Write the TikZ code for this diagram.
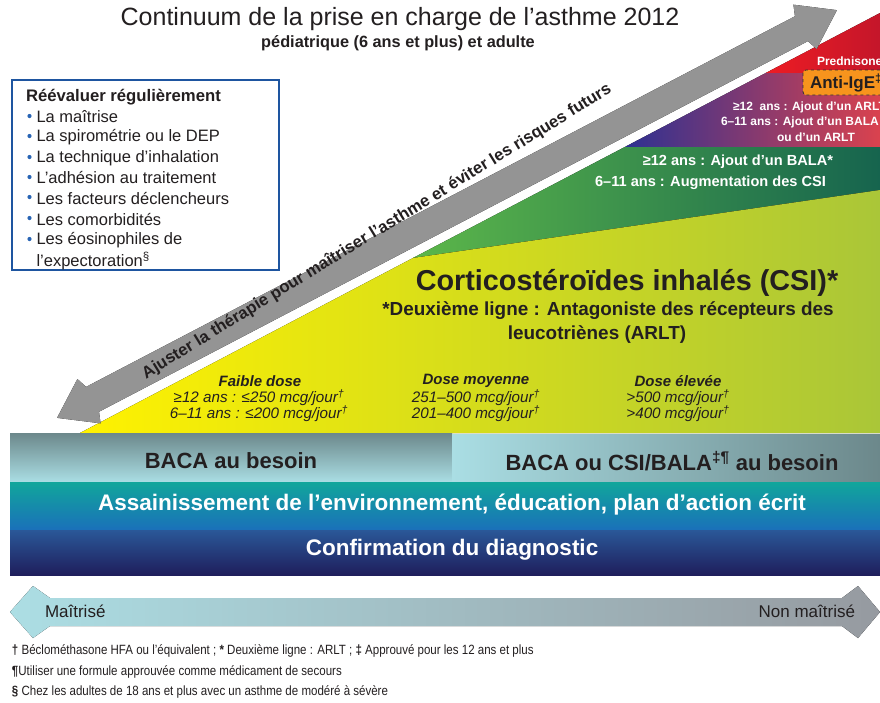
\documentclass[tikz,border=0pt]{standalone}
\usepackage{fontspec}
\setmainfont{Liberation Sans}
\newfontfamily\cond[FakeStretch=0.86]{Liberation Sans}
\newcommand\fsz[1]{\fontsize{#1}{#1}\selectfont}
\definecolor{redL}{RGB}{237,28,36}
\definecolor{redR}{RGB}{196,22,42}
\definecolor{purL}{RGB}{46,49,146}
\definecolor{purM}{RGB}{120,50,130}
\definecolor{purR}{RGB}{218,66,78}
\definecolor{grnL}{RGB}{92,183,74}
\definecolor{grnR}{RGB}{22,100,78}
\definecolor{yelL}{RGB}{255,242,0}
\definecolor{yelM}{RGB}{236,230,18}
\definecolor{yelR}{RGB}{170,198,56}
\definecolor{bacaD}{RGB}{108,136,139}
\definecolor{bacaL}{RGB}{170,222,228}
\definecolor{tealT}{RGB}{17,166,155}
\definecolor{tealB}{RGB}{26,112,186}
\definecolor{navyT}{RGB}{42,88,152}
\definecolor{navyB}{RGB}{31,30,92}
\definecolor{boxblue}{RGB}{30,85,160}
\definecolor{bul}{RGB}{40,100,180}
\definecolor{orng}{RGB}{247,148,29}
\definecolor{arrL}{RGB}{172,222,228}
\definecolor{arrR}{RGB}{150,154,160}
\definecolor{txt}{RGB}{35,31,32}
\tikzset{
  lbl/.style={inner sep=0pt, outer sep=0pt, text=txt},
  wlbl/.style={inner sep=0pt, outer sep=0pt, text=white},
  item/.style={lbl, anchor=west, font=\fsz{16.5}},
  bulletdot/.style={fill=bul, draw=none},
  band/.style={draw=none},
  dose/.style={lbl, font=\itshape\fsz{15.2}},
  dosehead/.style={lbl, font=\bfseries\itshape\fsz{15}},
  bandtxt/.style={font=\bfseries\fsz{22.5}, inner sep=0pt, outer sep=0pt},
  foot/.style={lbl, anchor=west, font=\cond\fsz{13.4}},
}
\begin{document}
\begin{tikzpicture}[x=1pt,y=-1pt]
\clip (0,0) rectangle (880,702);
\fill[white] (0,0) rectangle (880,702);

% ---------- triangle bands ----------
\fill[band, left color=redL, right color=redR] (765.7,73) -- (880,13) -- (880,73) -- cycle;
\fill[band, left color=purL, middle color=purM, right color=purR] (765.7,73) -- (880,73) -- (880,147) -- (624.8,147) -- cycle;
\fill[band, left color=grnL, right color=grnR] (624.8,147) -- (880,147) -- (880,190) -- (413,258) -- cycle;
\fill[band, left color=yelL, middle color=yelM, right color=yelR] (413,258) -- (880,190) -- (880,433) -- (80,433) -- cycle;

% ---------- gray diagonal double arrow ----------
\begin{scope}[shift={(447,214)}, rotate=27.6]
  \fill[left color=black!42, middle color=black!4, right color=black!42]
    (-440,0) -- (-404,-25) -- (-400,-14) -- (400,-14) -- (404,-25) -- (440,0)
    -- (404,25) -- (400,14) -- (-400,14) -- (-404,25) -- cycle;
\end{scope}
\node[lbl, rotate=31.6, anchor=base west, font=\bfseries\fsz{16.7}] (adj) at (146,379)
  {Ajuster la thérapie pour maîtriser l’asthme et éviter les risques futurs};

% ---------- title ----------
\node[lbl, font=\fsz{25}] (title) at (400,19) {Continuum de la prise en charge de l’asthme 2012};
\node[lbl, font=\bfseries\fsz{16.3}] (subtitle) at (398,43) {pédiatrique (6 ans et plus) et adulte};

% ---------- reassess box ----------
\draw[boxblue, line width=1.6pt] (12,80) rectangle (279,270);
\node[lbl, anchor=west, font=\bfseries\fsz{16.7}] (rtitle) at (26,97) {Réévaluer régulièrement};
\foreach \t/\yy [count=\i] in {La maîtrise/117, La spirométrie ou le DEP/137, La technique d’inhalation/158, L’adhésion au traitement/178, Les facteurs déclencheurs/198, Les comorbidités/219, Les éosinophiles de/240}{
  \fill[bulletdot] (29.5,\yy-1) circle (2.1);
  \node[item] (it\i) at (36.5,\yy) {\t};
}
\node[item] (it8) at (36.5,261) {l’expectoration\textsuperscript{§}};

% ---------- labels in bands ----------
\node[wlbl, anchor=west, font=\bfseries\fsz{12}] (pred) at (817,61) {Prednisone};
\draw[fill=orng, draw=black!80, dashed, line width=0.8pt, rounded corners=3pt] (803,70) rectangle (895,95);
\node[lbl, anchor=west, font=\bfseries\fsz{17}] (antiige) at (810,83) {Anti-IgE\textsuperscript{‡}};

\node[wlbl, anchor=west, font=\bfseries\fsz{12}] (p1) at (733,107) {≥12\ \ ans : Ajout d’un ARLT};
\node[wlbl, anchor=west, font=\bfseries\fsz{12}] (p2) at (721,122) {6–11 ans : Ajout d’un BALA};
\node[wlbl, font=\bfseries\fsz{12}] (p3) at (816,137) {ou d’un ARLT};

\node[wlbl, anchor=east, font=\bfseries\fsz{14.6}] (g1) at (833,162) {≥12 ans : Ajout d’un BALA*};
\node[wlbl, anchor=east, font=\bfseries\fsz{14.6}] (g2) at (826,183) {6–11 ans : Augmentation des CSI};

\node[lbl, font=\bfseries\fsz{28.8}] (csi) at (627,283) {Corticostéroïdes inhalés (CSI)*};
\node[lbl, font=\bfseries\fsz{18.9}] (csi2) at (608,311) {*Deuxième ligne : Antagoniste des récepteurs des};
\node[lbl, font=\bfseries\fsz{18.9}] (csi3) at (597,335) {leucotriènes (ARLT)};

\node[dosehead] (d1) at (260,381) {Faible dose};
\node[dose] (d1a) at (259,398) {≥12 ans : ≤250 mcg/jour\textsuperscript{†}};
\node[dose] (d1b) at (259,414) {6–11 ans : ≤200 mcg/jour\textsuperscript{†}};
\node[dosehead] (d2) at (476,381) {Dose moyenne};
\node[dose] (d2a) at (476,398) {251–500 mcg/jour\textsuperscript{†}};
\node[dose] (d2b) at (476,414) {201–400 mcg/jour\textsuperscript{†}};
\node[dosehead] (d3) at (678,381) {Dose élevée};
\node[dose] (d3a) at (678,398) {>500 mcg/jour\textsuperscript{†}};
\node[dose] (d3b) at (678,414) {>400 mcg/jour\textsuperscript{†}};

% ---------- horizontal bands ----------
\fill[band, top color=bacaD, bottom color=bacaL] (10,433) rectangle (452,482);
\fill[band, left color=bacaL, right color=bacaD] (452,434) rectangle (880,482);
\fill[band, top color=tealT, middle color=tealT!85!tealB, bottom color=tealB] (10,482) rectangle (880,530);
\fill[band, top color=navyT, bottom color=navyB] (10,530) rectangle (880,575);

\node[bandtxt, text=txt, font=\bfseries\fsz{22}] (baca1) at (231,461) {BACA au besoin};
\node[bandtxt, text=txt, font=\bfseries\fsz{22}] (baca2) at (672,461) {BACA ou CSI/BALA\textsuperscript{‡¶} au besoin};
\node[bandtxt, text=white] (env) at (452,505) {Assainissement de l’environnement, éducation, plan d’action écrit};
\node[bandtxt, text=white] (diag) at (452,550) {Confirmation du diagnostic};

% ---------- control arrow ----------
\fill[left color=arrL, right color=arrR]
  (10,612) -- (33,586) -- (50,598) -- (842,598) -- (858,586) -- (880,612)
  -- (858,638) -- (842,626) -- (50,626) -- (33,638) -- cycle;
\node[lbl, anchor=west, font=\fsz{17}] (ctl) at (45,611) {Maîtrisé};
\node[lbl, anchor=east, font=\fsz{17}] (unctl) at (855,611) {Non maîtrisé};

% ---------- footnotes ----------
\node[foot] (fn1) at (12,651) {\textbf{†} Béclométhasone HFA ou l’équivalent ; \textbf{*} Deuxième ligne : ARLT ; \textbf{‡} Approuvé pour les 12 ans et plus};
\node[foot] (fn2) at (12,672) {\textbf{¶}Utiliser une formule approuvée comme médicament de secours};
\node[foot] (fn3) at (12,692) {\textbf{§} Chez les adultes de 18 ans et plus avec un asthme de modéré à sévère};
\end{tikzpicture}
\end{document}
